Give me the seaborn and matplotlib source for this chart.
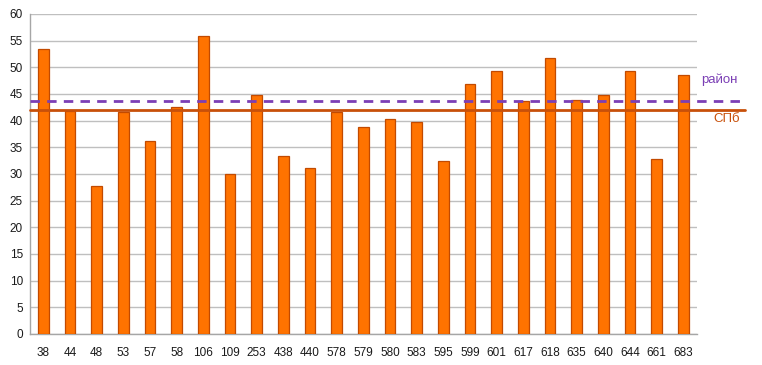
import matplotlib
matplotlib.use("Agg")
import matplotlib.pyplot as plt
import matplotlib.transforms as mtransforms
from matplotlib.ticker import MultipleLocator, FixedLocator
import seaborn as sns
import pandas as pd

schools = ["38", "44", "48", "53", "57", "58", "106", "109", "253", "438", "440",
           "578", "579", "580", "583", "595", "599", "601", "617", "618", "635",
           "640", "644", "661", "683"]
scores = [53.4, 41.8, 27.8, 41.7, 36.2, 42.6, 55.9, 30.0, 44.9, 33.4, 31.1,
          41.6, 38.8, 40.4, 39.8, 32.4, 46.9, 49.3, 43.7, 51.7, 43.9,
          44.8, 49.4, 32.8, 48.5]
district_avg = 43.7
city_avg = 42.0
district_label = "район"
city_label = "СПб"

df = pd.DataFrame({"school": schools, "score": scores})

sns.set_style("white")
plt.rcParams["font.family"] = ["Liberation Sans", "DejaVu Sans"]

fig = plt.figure(figsize=(7.62, 3.65), dpi=100)
ax = fig.add_axes([30 / 762, 1 - 334 / 365, 666.7 / 762, 320 / 365])

sns.barplot(data=df, x="school", y="score", order=schools, color="#FF7300",
            width=0.4, edgecolor="#C24A00", linewidth=0.9, saturation=1,
            ax=ax, zorder=3)
for p in ax.patches:
    p.set_zorder(3)

ax.set_ylim(0, 60)
ax.set_xlim(-0.5, len(schools) - 0.5)
ax.yaxis.set_major_locator(MultipleLocator(5))
ax.grid(axis="y", color="#BFBFBF", linewidth=1, zorder=0)
ax.set_axisbelow(True)

ax.set_xlabel("")
ax.set_ylabel("")

for side in ["top", "right"]:
    ax.spines[side].set_visible(False)
for side in ["left", "bottom"]:
    ax.spines[side].set_color("#A6A6A6")
    ax.spines[side].set_linewidth(1)

ax.tick_params(axis="y", which="major", direction="out", length=3, color="#A6A6A6",
               labelsize=8.5, labelcolor="#1a1a1a", pad=2)
ax.tick_params(axis="x", which="major", length=0, labelsize=8.5, labelcolor="#1a1a1a", pad=9)
ax.xaxis.set_minor_locator(FixedLocator([i - 0.5 for i in range(len(schools) + 1)]))
ax.tick_params(axis="x", which="minor", direction="out", length=3, color="#A6A6A6")

ax.axhline(city_avg, xmin=0, xmax=1.072, color="#C8500A", linewidth=2,
           clip_on=False, zorder=4)
ax.axhline(district_avg, xmin=0, xmax=1.072, color="#7B3FB5", linewidth=2,
           linestyle=(0, (3.4, 2.6)), clip_on=False, zorder=5)

trans = mtransforms.blended_transform_factory(ax.transAxes, ax.transData)
ax.text(1.006, 47.6, district_label, transform=trans, color="#7B3FB5",
        fontsize=9.5, va="center", ha="left")
ax.text(1.025, 40.3, city_label, transform=trans, color="#C8500A",
        fontsize=9.5, va="center", ha="left")

fig.savefig("out.png", dpi=100)
